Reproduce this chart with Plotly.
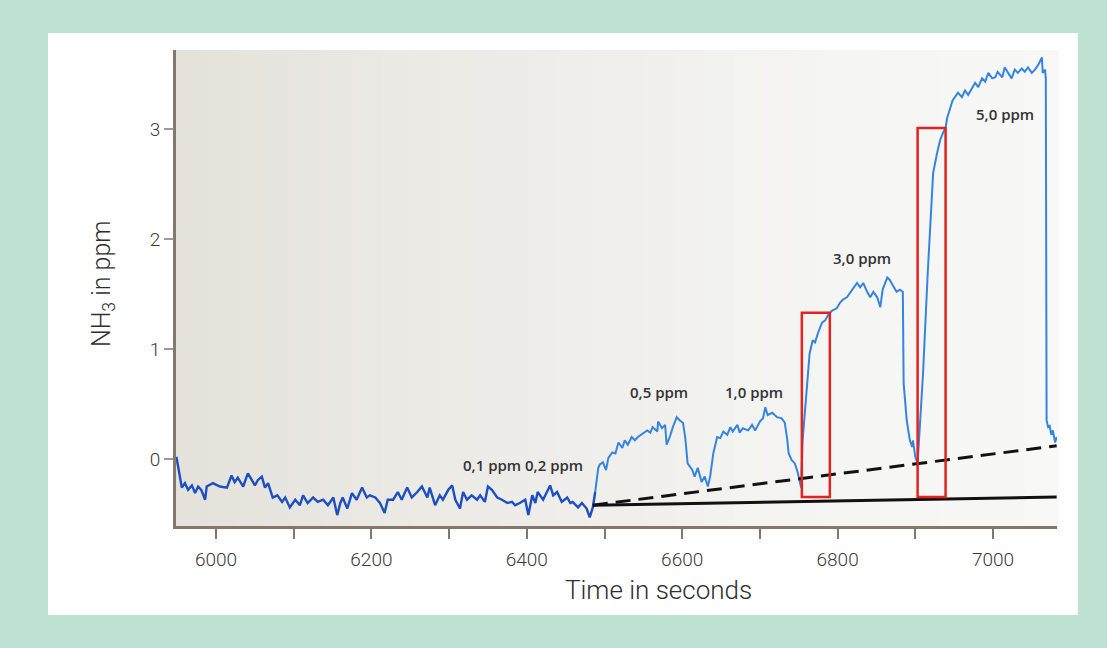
import numpy as np
import plotly.graph_objects as go

# NH3 sensor trace: time in seconds, concentration in ppm
time_s = [
    5949, 5954, 5956, 5960, 5964, 5969, 5973, 5977, 5981, 5986, 5988, 5996,
    6005, 6014, 6020, 6024, 6028, 6035, 6041, 6046, 6050, 6054, 6059, 6063,
    6067, 6073, 6079, 6085, 6089, 6095, 6102, 6108, 6112, 6118, 6125, 6131,
    6138, 6144, 6151, 6156, 6160, 6163, 6169, 6175, 6181, 6188, 6194, 6198,
    6205, 6211, 6217, 6221, 6228, 6234, 6239, 6246, 6252, 6259, 6265, 6272,
    6275, 6282, 6288, 6292, 6299, 6304, 6308, 6314, 6318, 6323, 6329, 6336,
    6340, 6346, 6350, 6355, 6362, 6368, 6375, 6381, 6385, 6391, 6398, 6402,
    6407, 6411, 6414, 6421, 6426, 6430, 6434, 6439, 6445, 6452, 6456, 6459,
    6466, 6471, 6477, 6481, 6485, 6488,
    6492, 6494, 6498, 6502, 6505, 6510, 6514, 6518, 6523, 6526, 6530, 6535,
    6539, 6543, 6550, 6555, 6559, 6562, 6568, 6569, 6574, 6578, 6580, 6584,
    6588, 6593, 6597, 6601, 6604, 6607, 6613, 6616, 6620, 6625, 6629, 6633,
    6636, 6640, 6645, 6649, 6653, 6658, 6662, 6665, 6671, 6674, 6678, 6685,
    6690, 6694, 6700, 6704, 6707, 6710, 6716, 6722, 6728, 6732, 6735, 6737,
    6741, 6745, 6749, 6753, 6755, 6761, 6764, 6768, 6771, 6775, 6780, 6784,
    6788, 6793, 6799, 6803, 6807, 6812, 6816, 6820, 6825, 6829, 6833, 6838,
    6842, 6846, 6851, 6855, 6858, 6864, 6867, 6871, 6876, 6880, 6884, 6885,
    6889, 6893, 6896, 6897, 6900, 6903, 6910, 6916, 6923, 6928, 6932, 6936,
    6939, 6941, 6945, 6948, 6955, 6960, 6964, 6968, 6973, 6977, 6981, 6986,
    6990, 6994, 6999, 7003, 7006, 7012, 7015, 7019, 7024, 7028, 7032, 7037,
    7041, 7045, 7050, 7054, 7058, 7063, 7064, 7067, 7068, 7069, 7071, 7073,
    7075, 7077, 7080, 7082,
]
nh3_ppm = [
    0.02, -0.21, -0.26, -0.22, -0.28, -0.24, -0.31, -0.25, -0.28, -0.37, -0.25, -0.22,
    -0.25, -0.26, -0.15, -0.21, -0.17, -0.25, -0.13, -0.19, -0.24, -0.19, -0.16, -0.26,
    -0.22, -0.35, -0.33, -0.39, -0.35, -0.44, -0.37, -0.42, -0.33, -0.40, -0.35, -0.39,
    -0.37, -0.42, -0.35, -0.51, -0.40, -0.35, -0.45, -0.31, -0.37, -0.26, -0.35, -0.33,
    -0.35, -0.40, -0.49, -0.37, -0.37, -0.30, -0.37, -0.26, -0.35, -0.30, -0.25, -0.35,
    -0.26, -0.42, -0.33, -0.37, -0.28, -0.24, -0.37, -0.45, -0.30, -0.37, -0.33, -0.37,
    -0.33, -0.39, -0.25, -0.28, -0.35, -0.37, -0.40, -0.39, -0.42, -0.40, -0.37, -0.51,
    -0.33, -0.40, -0.30, -0.37, -0.30, -0.24, -0.33, -0.30, -0.39, -0.35, -0.40, -0.39,
    -0.44, -0.40, -0.45, -0.53, -0.44, -0.30,
    -0.08, -0.05, -0.03, -0.10, 0.01, 0.06, 0.05, 0.15, 0.10, 0.17, 0.13, 0.20,
    0.17, 0.20, 0.24, 0.26, 0.24, 0.29, 0.25, 0.34, 0.28, 0.31, 0.13, 0.20,
    0.29, 0.38, 0.35, 0.33, 0.19, -0.04, -0.10, -0.16, -0.08, -0.21, -0.16, -0.25,
    -0.16, 0.05, 0.20, 0.19, 0.25, 0.22, 0.29, 0.25, 0.31, 0.24, 0.28, 0.26,
    0.31, 0.26, 0.34, 0.37, 0.47, 0.40, 0.42, 0.38, 0.37, 0.33, 0.19, 0.05,
    -0.01, -0.04, -0.13, -0.26, 0.17, 0.65, 0.96, 1.08, 1.06, 1.15, 1.24, 1.26,
    1.31, 1.35, 1.37, 1.42, 1.45, 1.47, 1.51, 1.55, 1.60, 1.56, 1.60, 1.52,
    1.47, 1.52, 1.47, 1.38, 1.54, 1.65, 1.63, 1.58, 1.52, 1.54, 1.52, 0.69,
    0.35, 0.17, 0.11, 0.17, 0.02, -0.04, 0.78, 1.69, 2.60, 2.78, 2.90, 2.97,
    3.01, 3.10, 3.20, 3.26, 3.33, 3.29, 3.35, 3.31, 3.37, 3.42, 3.38, 3.46,
    3.43, 3.51, 3.46, 3.47, 3.52, 3.47, 3.56, 3.51, 3.46, 3.54, 3.51, 3.55,
    3.52, 3.56, 3.51, 3.54, 3.58, 3.65, 3.51, 3.54, 3.46, 0.35, 0.29, 0.30,
    0.22, 0.26, 0.15, 0.20,
]

# start of gas exposure (first step)
exposure_start = 6488

# baseline drift lines
drift_t = [6485, 7082]
drift_solid = [-0.42, -0.345]
drift_dashed = [-0.42, 0.12]

# response-time windows
window_t0 = [6754, 6903]
window_t1 = [6790, 6939]
window_low = [-0.345, -0.345]
window_high = [1.33, 3.01]

# concentration step labels
step_text = ["0,1 ppm 0,2 ppm", "0,5 ppm", "1,0 ppm", "3,0 ppm", "5,0 ppm"]
step_t = [6395, 6570, 6692, 6831, 7015]
step_v = [-0.05, 0.61, 0.61, 1.83, 3.14]

y_tickvals = [0, 1, 2, 3]

t = np.array(time_s)
v = np.array(nh3_ppm)
base = t <= exposure_start
resp = t >= exposure_start

fig = go.Figure()
fig.add_trace(go.Scatter(x=t[base], y=v[base], mode="lines",
                         line=dict(color="#1d4ec2", width=2.4), showlegend=False))
fig.add_trace(go.Scatter(x=t[resp], y=v[resp], mode="lines",
                         line=dict(color="#3585e0", width=2), showlegend=False))
fig.add_trace(go.Scatter(x=drift_t, y=drift_solid, mode="lines",
                         line=dict(color="#111111", width=3), showlegend=False))
fig.add_trace(go.Scatter(x=drift_t, y=drift_dashed, mode="lines",
                         line=dict(color="#111111", width=3, dash="15px,8px"),
                         showlegend=False))

shapes = []
# white card behind the chart
shapes.append(dict(type="rect", xref="paper", yref="paper", layer="below",
                   x0=-0.1453, x1=1.0238, y0=-0.187, y1=1.0357,
                   fillcolor="white", line=dict(width=0)))
# plot area with a soft left-to-right shading
anchors = [0, 0.25, 0.5, 0.75, 1]
cols = np.array([(228, 225, 218), (235, 233, 228), (240, 239, 236),
                 (245, 245, 243), (248, 248, 247)])
n = 30
for i in range(n):
    c = (i + 0.5) / n
    rgb = [int(round(np.interp(c, anchors, cols[:, k]))) for k in range(3)]
    shapes.append(dict(type="rect", xref="paper", yref="paper", layer="below",
                       x0=i / n, x1=(i + 1) / n + 0.002, y0=0, y1=1,
                       fillcolor="rgb(%d,%d,%d)" % tuple(rgb), line=dict(width=0)))
for a, b, lo, hi in zip(window_t0, window_t1, window_low, window_high):
    shapes.append(dict(type="rect", xref="x", yref="y", x0=a, x1=b, y0=lo, y1=hi,
                       line=dict(color="#e3231f", width=2.5), fillcolor="rgba(0,0,0,0)"))

annotations = [
    dict(x=x, y=y, text=s, showarrow=False, xref="x", yref="y",
         font=dict(family="Open Sans", size=15, color="#333333", weight=600))
    for s, x, y in zip(step_text, step_t, step_v)
]
title_font = dict(family="Roboto", size=25, weight=300, color="#2e2e2e")
annotations.append(dict(text="Time in seconds", xref="paper", yref="paper",
                        x=0.548, y=-0.134, xanchor="center", yanchor="middle",
                        showarrow=False, font=dict(title_font, size=26)))
annotations.append(dict(text="NH<sub>3</sub> in ppm", xref="paper", yref="paper",
                        x=-0.083, y=0.51, xanchor="center", yanchor="middle",
                        textangle=-90, showarrow=False, font=title_font))

axis_col = "#85786a"
fig.update_layout(
    width=1107, height=648,
    margin=dict(l=176, r=50, t=50, b=122),
    paper_bgcolor="#bee2d3",
    plot_bgcolor="#efeeea",
    shapes=shapes,
    annotations=annotations,
    font=dict(family="Roboto", color="#3a3a3a"),
    xaxis=dict(
        range=[5948.5, 7082.4], tickmode="linear", tick0=6000, dtick=200,
        ticks="outside", ticklen=10, tickwidth=2, tickcolor=axis_col,
        minor=dict(tick0=6000, dtick=100, ticks="outside", ticklen=10,
                   tickwidth=2, tickcolor=axis_col, showgrid=False),
        ticklabelstandoff=4,
        showline=True, linecolor=axis_col, linewidth=3,
        showgrid=False, zeroline=False,
        tickfont=dict(size=19, family="Roboto", weight=300, color="#3a3a3a"),
        automargin=False,
    ),
    yaxis=dict(
        range=[-0.609, 3.718], tickmode="array", tickvals=y_tickvals,
        ticks="outside", ticklen=9, tickwidth=1.5, tickcolor="#9a9a9a",
        showline=True, linecolor=axis_col, linewidth=3,
        showgrid=False, zeroline=False,
        tickfont=dict(size=19, family="Roboto", weight=300, color="#3a3a3a"),
        automargin=False,
    ),
)

fig.write_html("out.html")
